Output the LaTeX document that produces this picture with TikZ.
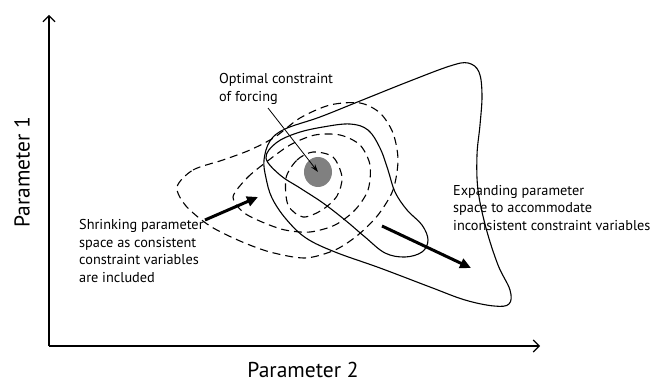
\documentclass[tikz,border=0pt]{standalone}
\usepackage{fontspec}
\setmainfont{PT Sans}
\usetikzlibrary{arrows.meta}
\begin{document}
\begin{tikzpicture}[x=1pt,y=-1pt,
  axis/.style={line width=1.1pt,-{Straight Barb[length=6pt,width=12pt,line width=1.1pt]}},
  contour/.style={line width=1.1pt},
  dcontour/.style={line width=1.1pt,dash pattern=on 8pt off 5pt},
  thickarrow/.style={line width=3pt,-{Triangle[length=11pt,width=10pt]}},
  thinarrow/.style={line width=0.8pt,-{Stealth[length=8pt,width=5pt]}},
  lbl/.style={font=\fontsize{14.3}{17.5}\selectfont, align=left, inner sep=0pt, anchor=west},
  axlbl/.style={font=\fontsize{21.5}{25}\selectfont, inner sep=0pt}]
\useasboundingbox (0,0) rectangle (659,385);
% axes
\coordinate (O) at (49,346);
\coordinate (ytip) at (49,15);
\coordinate (xtip) at (540,346);
\draw[axis] (O) -- (ytip);
\draw[axis] (O) -- (xtip);
\node[axlbl, rotate=90] (p1) at (22,172) {Parameter 1};
\node[axlbl] (p2) at (303,370) {Parameter 2};
% outer solid contour
\draw[contour] plot[smooth cycle, tension=0.6] coordinates {
 (264,160) (270,141) (285,129) (320,117) (360,101) (410,81) (450,66) (468,63)
 (479,72) (482,95) (480,125) (477,155) (478,190) (486,228) (498,265) (510,290)
 (509,304) (494,306) (465,300) (430,287) (380,268) (335,252) (306,238) (286,219)
 (272,198) (266,178)};
% middle solid contour
\draw[contour] plot[smooth cycle, tension=0.6] coordinates {
 (266,158) (276,143) (297,133) (323,127) (350,124) (368,130) (380,148) (388,170)
 (395,192) (407,210) (422,225) (428,240) (422,252) (405,257) (385,253) (365,237)
 (345,220) (323,203) (300,188) (280,175)};
% dashed contours
\draw[dcontour] plot[smooth cycle] coordinates {
 (177,187) (193,170) (223,160) (250,150) (275,137) (300,118) (330,105) (360,103)
 (380,113) (393,133) (398,160) (393,190) (378,215) (358,235) (335,250) (305,258)
 (270,252) (240,241) (210,226) (186,206)};
\draw[dcontour] plot[smooth cycle] coordinates {
 (233,197) (247,178) (265,163) (290,145) (315,135) (340,135) (360,145) (370,165)
 (368,190) (355,210) (335,225) (310,232) (285,230) (262,222) (243,212)};
\draw[dcontour] plot[smooth cycle] coordinates {
 (286,178) (297,160) (313,152) (333,157) (342,177) (337,196) (322,210) (303,217)
 (288,205)};
% optimum
\fill[gray!75!black!80] (318,172) ellipse[x radius=14, y radius=15];
\node[circle, inner sep=0pt, minimum size=1pt] (opt) at (318,172) {};
% labels
\node[lbl] (tOpt) at (219,89) {Optimal constraint\\of forcing};
\node[lbl] (tShr) at (79,251) {Shrinking parameter\\space as consistent\\constraint variables\\are included};
\node[lbl] (tExp) at (453,208) {Expanding parameter\\space to accommodate\\inconsistent constraint variables};
% arrows
\coordinate (a1s) at (268,108);
\draw[thinarrow] (a1s) -- (opt.center);
\coordinate (a2s) at (205,220);
\coordinate (a2e) at (258,197);
\draw[thickarrow] (a2s) -- (a2e);
\coordinate (a3s) at (382,226);
\coordinate (a3e) at (471,268);
\draw[thickarrow] (a3s) -- (a3e);
\end{tikzpicture}
\end{document}
